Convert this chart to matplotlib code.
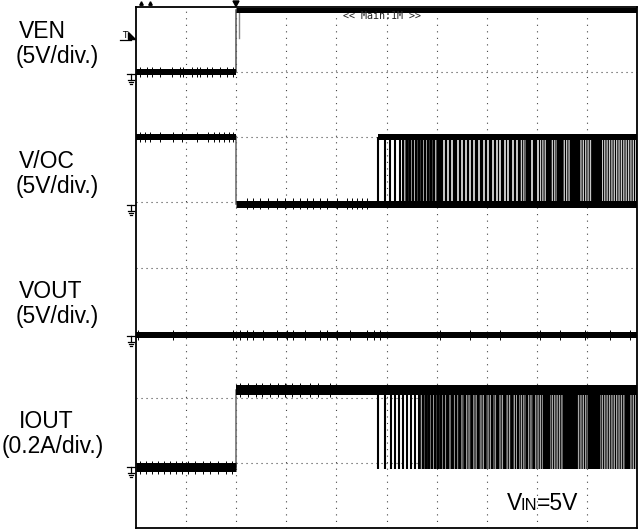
import matplotlib.pyplot as plt
from matplotlib.lines import Line2D
from matplotlib.patches import Polygon

plt.rcParams['font.family'] = ['Liberation Sans', 'DejaVu Sans']
plt.rcParams['lines.scale_dashes'] = False
plt.rcParams['hatch.linewidth'] = 0.75

# ---- data (screen divisions: x 0..10, y 0..8) ----
t_enable = 2.0          # EN goes high
t_glitch = 2.05
t_burst = 4.83          # hiccup / OC burst begins

ven_low, ven_high, ven_dip = 7.0, 7.96, 7.52
voc_high, voc_low = 6.0, 4.98
vout_level = 2.96
iout_low, iout_high, iout_floor = 0.93, 2.12, 0.90

# V/OC burst
voc_pulses = [4.83, 4.97, 5.07, 5.17, 5.27, 5.33, 5.41, 5.47, 5.53, 5.59,
              5.65, 5.71, 5.77, 5.83, 5.89, 5.95]
voc_solid = [(6.01, 10.0)]
voc_gray = [(5.33, 6.01), (7.66, 7.78), (8.06, 8.18), (8.28, 8.40),
            (8.52, 8.66), (8.86, 9.10), (9.30, 9.98)]
voc_gaps = [6.15, 6.23, 6.31, 6.43, 6.51, 6.59, 6.67, 6.75, 6.85, 6.95,
            7.03, 7.13, 7.21, 7.27, 7.37, 7.43, 7.52, 7.60, 7.90, 8.02]

# IOUT burst
iout_pulses = [4.83, 4.97, 5.09, 5.17, 5.25, 5.33, 5.41, 5.49, 5.57, 5.65,
               5.73, 5.79, 5.85, 5.91, 5.97, 6.03, 6.09, 6.15, 6.23, 6.31,
               6.39, 6.47, 6.57, 6.71, 6.83, 6.97, 7.11, 7.23, 7.37, 7.50,
               7.62, 7.80, 7.95]
iout_gray = [(5.63, 10.0)]
iout_solid = [(8.12, 8.26), (8.52, 8.80), (9.02, 9.26), (9.76, 9.86)]

# small noise spikes on the flat parts of the traces
ven_ticks = [0.08, 0.22, 0.32, 0.48, 0.72, 0.88, 0.94, 1.12, 1.22, 1.28,
             1.42, 1.52, 1.68, 1.82, 1.94]
voc_hi_ticks = [0.08, 0.18, 0.28, 0.48, 0.74, 0.92, 1.22, 1.44, 1.56, 1.66,
                1.76, 1.86, 1.94]
voc_lo_ticks = [2.22, 2.34, 2.48, 2.63, 2.81, 2.97, 3.13, 3.27, 3.41, 3.53,
                3.67, 3.81, 4.01, 4.21, 4.31, 4.41, 4.51, 4.61]
vout_ticks = [0.04, 0.74, 1.94, 2.08, 2.22, 2.34, 2.53, 2.81, 3.01, 3.13,
              3.37, 3.67, 3.81, 4.01, 4.27, 4.61, 4.75, 4.87, 6.07, 6.67,
              7.27, 8.06, 8.46, 8.96, 9.46, 9.86]
iout_lo_ticks = [0.08, 0.20, 0.32, 0.44, 0.56, 0.68, 0.80, 0.92, 1.04, 1.18,
                 1.34, 1.48, 1.64, 1.80, 1.92]
iout_hi_ticks = [2.08, 2.24, 2.40, 2.51, 2.67, 2.83, 2.97, 3.11, 3.27, 3.47,
                 3.63, 3.87]

labels = [('VEN', '(5V/div.)'), ('V/OC', '(5V/div.)'),
          ('VOUT', '(5V/div.)'), ('IOUT', '(0.2A/div.)')]

W, H = 643, 530
PX = 0.72          # points per pixel
DY = 1 / 65.1      # divisions per pixel (vertical)


def fx(x):
    return x / W


def fy(y):
    return 1 - y / H


fig = plt.figure(figsize=(W / 100, H / 100), dpi=100)
ax = fig.add_axes([fx(136), fy(528), 501 / W, 521 / H])
ax.set_xlim(0, 10)
ax.set_ylim(0, 8)
ax.set_xticks([])
ax.set_yticks([])
for s in ax.spines.values():
    s.set_linewidth(1.3)
    s.set_color('black')
    s.set_zorder(10)

# dotted graticule
for gx in range(1, 10):
    ax.plot([gx, gx], [0, 8], color='#444', lw=0.8, ls=(0, (0.8, 3.9)), zorder=1)
for gy in range(1, 8):
    ax.plot([0, 10], [gy, gy], color='#444', lw=0.8, ls=(0, (0.8, 2.8)), zorder=1)


def band(x0, x1, y, th, ticks=()):
    ax.plot([x0, x1], [y, y], color='black', lw=th * PX, solid_capstyle='butt', zorder=5)
    if ticks:
        h = (th / 2 + 1.8) * DY
        ax.vlines(ticks, y - h, y + h, color='black', lw=0.7, zorder=5)


def spans(lst, lo, hi, color):
    for a, b in lst:
        ax.fill_between([a, b], lo, hi, color=color, lw=0, zorder=2)


def stripes(lst, lo, hi, face):
    for a, b in lst:
        ax.fill_between([a, b], lo, hi, facecolor=face, edgecolor='black',
                        hatch='|' * 7, lw=0, zorder=2)


# VEN
band(0, t_enable, ven_low, 6, ven_ticks)
band(t_enable, 10, ven_high, 5)
ax.plot([t_enable, t_enable], [ven_low, ven_high], color='#555', lw=1.1, zorder=4)
ax.plot([t_glitch, t_glitch], [ven_dip, ven_high], color='#888', lw=1.0, zorder=4)

# V/OC
band(0, t_enable, voc_high, 6, voc_hi_ticks)
band(t_enable, 10, voc_low, 7, voc_lo_ticks)
band(t_burst, 10, voc_high, 6)
ax.plot([t_enable, t_enable], [voc_low, voc_high], color='#666', lw=1.1, zorder=4)
spans(voc_solid, voc_low, voc_high, 'black')
stripes(voc_gray, voc_low, voc_high, '#c8c8c8')
ax.vlines(voc_gaps, voc_low, voc_high, color='white', lw=1.1, zorder=3)
ax.vlines(voc_pulses, voc_low, voc_high, color='black', lw=1.5, zorder=3)

# VOUT
band(0, 10, vout_level, 6, vout_ticks)

# IOUT
band(0, t_enable, iout_low, 9, iout_lo_ticks)
band(t_enable, 10, iout_high, 10, iout_hi_ticks)
ax.plot([t_enable, t_enable], [iout_low, iout_high], color='#666', lw=1.1, zorder=4)
stripes(iout_gray, iout_floor, iout_high, '#a8a8a8')
spans(iout_solid, iout_floor, iout_high, 'black')
ax.vlines(iout_pulses, iout_floor, iout_high, color='black', lw=1.5, zorder=3)

ax.text(4.14, 7.86, '<< Main:1M >>', family='DejaVu Sans Mono', fontsize=7.2,
        color='#222', va='center', ha='left', zorder=6)

# channel labels on the left
for i, (name, scale) in enumerate(labels):
    base = 38 + 130 * i
    fig.text(fx(19), fy(base), name, fontsize=16.5, va='baseline', ha='left')
    fig.text(fx(2 if 'A' in scale else 16), fy(base + 25.5), scale,
             fontsize=16.5, va='baseline', ha='left')

fig.text(fx(507), fy(510), 'V', fontsize=16.5, va='baseline')
fig.text(fx(521), fy(510), 'IN', fontsize=12, va='baseline')
fig.text(fx(537), fy(510), '=5V', fontsize=16.5, va='baseline')


# ground markers
def fline(xs, ys, lw=0.9):
    fig.add_artist(Line2D([fx(x) for x in xs], [fy(y) for y in ys],
                          color='black', lw=lw))


for gy in [74, 205, 336, 467]:
    fline([127, 135], [gy, gy])
    fline([131, 131], [gy, gy + 6])
    fline([128, 134], [gy + 6, gy + 6])
    fline([129, 133], [gy + 8, gy + 8])
    fline([130, 132], [gy + 10, gy + 10])

# trigger level marker
fig.text(fx(122), fy(38), 'T', fontsize=6.5, family='DejaVu Sans', va='baseline')
fline([120, 131], [39.5, 39.5])
fig.add_artist(Polygon([(fx(128), fy(32)), (fx(128), fy(38.5)), (fx(135), fy(38.5))],
                       closed=True, color='black', transform=fig.transFigure))

# top markers
fig.add_artist(Polygon([(fx(233), fy(1)), (fx(239), fy(1)), (fx(236), fy(6.5))],
                       closed=True, color='black', transform=fig.transFigure))
for mx in [141, 150]:
    fig.add_artist(Line2D([fx(mx)], [fy(3)], marker='^', ms=2.5, color='black'))

fig.savefig('out.png', dpi=100)
